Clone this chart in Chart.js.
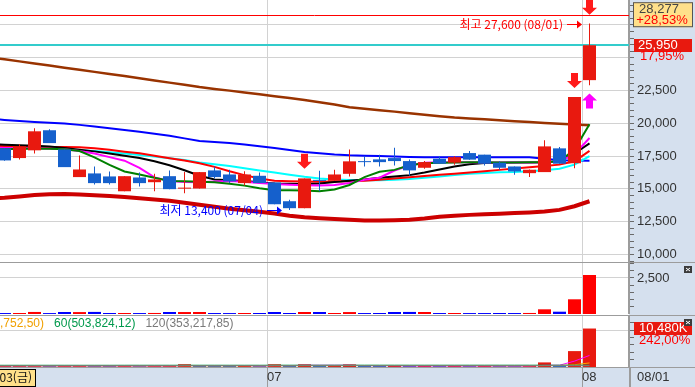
<!DOCTYPE html>
<html lang="ko">
<head>
<meta charset="utf-8">
<title>일봉 차트</title>
<script src="https://cdn.jsdelivr.net/npm/chart.js@4.4.1/dist/chart.umd.min.js"></script>
<style>
  html, body { margin: 0; padding: 0; background: #fff; }
  #wrap { position: relative; width: 695px; height: 387px; overflow: hidden; background: #fff; }
  #sideR { position: absolute; left: 629px; top: 0; width: 66px; height: 387px; background: #d5e0ee; }
  #stripB { position: absolute; left: 0; top: 367px; width: 695px; height: 20px; background: #d5e0ee; }
  canvas { position: absolute; left: 0; }
  .sep { position: absolute; left: 0; width: 695px; height: 1px; background: #9c9c9c; }
  .vsep { position: absolute; left: 629px; top: 367px; width: 2px; height: 20px; background: #9c9c9c; }
</style>
</head>
<body>
<div id="wrap">
  <div id="sideR"></div>
  <div id="stripB"></div>
  <canvas id="cPrice" width="695" height="262" style="top:0"></canvas>
  <canvas id="cTrade" width="695" height="51" style="top:263px"></canvas>
  <canvas id="cVol" width="695" height="71" style="top:316px"></canvas>
  <div class="sep" style="top:262px"></div>
  <div class="sep" style="top:315px"></div>
  <div class="sep" style="top:367px"></div>
  <div class="vsep"></div>
</div>
<script>
// ====== Datos (06/03 ~ 08/01, 일봉) ======
const dates = ['06/03','06/07','06/08','06/09','06/10','06/13','06/14','06/15','06/16','06/17',
  '06/20','06/21','06/22','06/23','06/24','06/27','06/28','06/29','06/30',
  '07/01','07/04','07/05','07/06','07/07','07/08','07/11','07/12','07/13','07/14','07/15',
  '07/18','07/19','07/20','07/21','07/22','07/25','07/26','07/27','07/28','07/29','08/01'];

const openP  = [null,18090,17350,17940,19470,18010,15900,16180,15950,14820,15870,15510,15970,15020,15030,16410,16100,15440,16000,
  15490,14060,13530,15640,15620,16150,17080,17250,17350,17120,16610,17300,17000,17730,17610,17000,16710,16200,16280,18090,16960,23290];
const highP  = [null,18100,18400,19620,19540,18010,17550,16710,16330,15970,16250,16150,16410,16280,16280,16710,16460,16350,16250,
  15490,14170,15800,16380,16460,18010,17480,17610,18140,17250,17120,17480,17500,17880,17610,17100,16710,16480,18700,18190,22000,27600];
const lowP   = [null,17150,17250,17700,18490,16660,15900,15340,15340,14820,15180,14820,14980,14670,15030,15800,15440,15260,15440,
  13830,13400,13530,14830,15620,15950,16710,16710,16790,16000,16530,16920,16850,17230,16790,16450,16080,15900,16280,16920,16580,22900];
const closeP = [null,17170,18240,19390,18490,16660,16480,15440,15440,15970,15440,15720,14980,15040,16280,15900,15570,16100,15440,
  13830,13530,15800,15610,16100,17100,17040,17040,17120,16410,17040,16920,17420,17230,16920,16610,16330,16460,18240,16920,22000,25950];

// 이동평균선
const maGreen   = [18000,18030,18060,18080,18060,18020,17890,17400,16830,16330,16100,15850,15600,15580,15550,15500,15400,15250,15050,14900,
  14900,14880,14830,14960,15300,15900,16300,16450,16800,16950,17000,17020,17030,17030,17020,17020,17030,17040,17100,18000,19920];
const maMagenta = [18150,18120,18100,18090,18060,18020,17880,17700,17420,17150,16600,15880,15600,15530,15510,15560,15600,15550,15450,15380,
  15320,15280,15260,15300,15450,15690,15850,16400,16800,17000,17030,17040,17030,17020,17010,17010,17010,17030,17100,17650,18880];
const maBlack   = [18420,18370,18320,18280,18230,18120,17990,17860,17700,17530,17350,17100,16800,16420,16000,15720,15650,15600,15510,15420,
  15390,15370,15420,15520,15620,15720,15850,15950,16050,16250,16480,16700,16880,16970,17000,17010,17020,17030,17080,17700,18470];
const maRed     = [18300,18260,18240,18220,18200,18190,18170,18100,17980,17840,17720,17520,17340,17160,16960,16680,16350,16050,15800,15630,
  15590,15570,15550,15560,15580,15620,15700,15790,15880,15990,16080,16160,16250,16350,16450,16560,16650,16750,16850,17100,17900];
const maCyan    = [18330,18240,18200,18160,18120,18030,17950,17880,17800,17700,17580,17460,17330,17200,17010,16880,16740,16570,16400,16250,
  16080,15920,15790,15710,15680,15650,15650,15700,15760,15850,15950,16050,16150,16210,16260,16290,16350,16420,16540,16850,17500];
const maBlue    = [20350,20260,20180,20100,20040,19990,19880,19760,19630,19490,19350,19200,19050,18850,18650,18570,18490,18380,18250,18120,
  17960,17810,17720,17620,17560,17530,17500,17470,17440,17410,17410,17410,17410,17410,17410,17410,17410,17300,17180,17160,17140];
const maBrown   = [25030,24880,24720,24560,24400,24240,24080,23920,23760,23600,23430,23260,23100,22930,22760,22620,22490,22350,22210,22070,
  21930,21780,21610,21440,21230,21110,21000,20890,20770,20650,20540,20440,20370,20300,20230,20160,20090,20020,19960,19910,19860];
const maDarkRed = [14250,14320,14420,14540,14600,14620,14580,14520,14460,14380,14290,14200,14090,13950,13790,13640,13480,13380,13250,13130,
  12960,12840,12760,12700,12650,12600,12590,12610,12650,12750,12880,12960,13020,13070,13110,13160,13210,13270,13400,13680,14060];

// 보조지표 (2번째 패널)
const tradeVal = [null,66,71,142,64,137,133,145,70,68,66,72,140,136,138,67,65,71,68,
  141,70,137,139,69,134,66,68,140,143,138,67,71,65,66,68,67,72,326,160,1021,2708];
// 거래량 (천주)
const volumeK = [null,300,300,320,280,290,300,290,270,300,260,280,300,760,320,280,270,300,260,
  750,300,740,290,300,720,280,270,300,290,310,270,300,260,270,260,250,290,1250,300,4330,10480];
const volMa5   = [320,310,300,300,300,290,300,300,290,290,280,280,290,380,380,380,390,380,290,390,
  380,470,480,480,490,380,370,370,290,290,290,290,280,290,280,270,270,460,480,1600,3150];
const volMa20  = [350,350,350,340,340,340,340,340,340,340,330,330,340,350,350,350,350,350,350,370,
  370,390,390,390,410,410,410,410,410,400,400,390,390,380,370,370,360,400,410,620,1110];
const volMa60  = [470,470,470,475,475,475,470,470,470,480,480,480,480,485,485,485,480,480,480,490,
  490,490,490,495,495,495,495,495,490,490,490,490,495,495,495,495,495,500,500,500,504];
const volMa120 = [340,340,340,340,345,345,345,345,345,345,345,345,345,350,350,350,350,350,350,350,
  350,350,350,350,350,350,350,350,350,350,350,350,350,352,352,352,352,352,353,353,353];
const volMaLabels = [',752,50)', '60(503,824,12)', '120(353,217,85)'];

// 축 / 표시값
const priceTickVals  = [9500,10000,10500,11000,11500,12000,12500,13000,13500,14000,14500,15000,15500,16000,16500,17000,17500,
  18000,18500,19000,19500,20000,20500,21000,21500,22000,22500,23000,23500,24000,24500,25000,25500,26000,26500,27000,27500,28000,28500,29000];
const priceGridVals  = [10000,12500,15000,17500,20000,22500,25000,27500];
const priceLabelVals = [10000,12500,15000,17500,20000,22500];
const tradeTickVals  = [500,1000,1500,2000,2500,3000,3500];
const tradeLabelVals = [2500];
const volTickVals    = [2000,4000,6000,8000,10000,12000];
const volGridVals    = [10000];

const limitPrice = 28277, limitPct = 28.53;
const lastClose = 25950, lastPct = 17.95;
const lastVolK = 10480, lastVolPct = 242.00;
const cursorLabel = '03(금)';

// 신호 화살표 / 최고·최저 표시
const sigDownIdx = [21, 39, 40];
const sigDownAt  = [16540, 22700, 28277];
const sigUpIdx   = [40];
const sigUpAt    = [22270];
const noteIdx    = [40, 20];
const notePrice  = [27600, 13400];
const noteText   = ['최고 27,600 (08/01)', '최저 13,400 (07/04)'];

// ====== Escalas ======
const X_MIN = 0.7, X_MAX = 0.7 + 629 / 15;
const P_MIN = 9428, P_MAX = 29398;
const T_MAX = 3541, V_MAX = 13889;
const NUM_FONT = '"Liberation Sans Narrow", "Liberation Sans", sans-serif';
const KR_FONT = '"Noto Sans CJK KR", sans-serif';
const UP = '#e8190f', DOWN = '#1560cc';

const fmt = v => v.toLocaleString('en-US');
const pct = v => v.toFixed(2).replace('.', ',') + '%';
const monthStarts = dates.map((d, i) => (i > 0 && d.slice(0, 2) !== dates[i - 1].slice(0, 2)) ? i : -1).filter(i => i >= 0);
const candleUp = i => closeP[i] >= openP[i];

function xAxis(withLabels) {
  return {
    type: 'linear', min: X_MIN, max: X_MAX, offset: false,
    afterBuildTicks: s => { s.ticks = monthStarts.map(i => ({ value: i - 0.5 })); },
    afterFit: s => { s.height = withLabels ? 20 : 0; s.paddingLeft = 0; s.paddingRight = 0; },
    grid: { offset: false, color: '#d2d2d2', drawTicks: withLabels, tickLength: 20, tickColor: '#9c9c9c' },
    border: { display: false },
    ticks: {
      display: withLabels, align: 'start', padding: -17, autoSkip: false, maxRotation: 0,
      color: '#333', font: { family: NUM_FONT, size: 13 },
      callback: (v, i) => dates[monthStarts[i]].slice(0, 2)
    }
  };
}

function yAxis(min, max, tickVals, gridVals, labelVals) {
  return {
    position: 'right', min, max,
    afterBuildTicks: s => { s.ticks = tickVals.map(v => ({ value: v })); },
    afterFit: s => { s.width = 66; s.paddingTop = 0; s.paddingBottom = 0; },
    grid: {
      color: c => gridVals.includes(c.tick && c.tick.value) ? '#d2d2d2' : 'rgba(0,0,0,0)',
      tickLength: 5, tickColor: '#6a6a6a'
    },
    border: { display: true, color: '#9c9c9c', width: 2 },
    ticks: {
      padding: 3, autoSkip: false, color: '#333', font: { family: NUM_FONT, size: 13 },
      callback: v => labelVals.includes(v) ? fmt(v) : ''
    }
  };
}

const maLine = (vals, color, width, order) => ({
  type: 'line', data: vals.map((v, i) => ({ x: i, y: v })),
  borderColor: color, borderWidth: width, pointRadius: 0, tension: 0, order
});

const baseOpts = {
  responsive: false, devicePixelRatio: 1, animation: false, events: [],
  layout: { padding: 0 },
  plugins: { legend: { display: false }, tooltip: { enabled: false } }
};

// ====== Dibujos extra ======
function downArrow(ctx, x, tip, color) {
  ctx.fillStyle = color;
  ctx.beginPath();
  ctx.moveTo(x - 3.5, tip - 15); ctx.lineTo(x + 3.5, tip - 15); ctx.lineTo(x + 3.5, tip - 7);
  ctx.lineTo(x + 7.5, tip - 7); ctx.lineTo(x, tip); ctx.lineTo(x - 7.5, tip - 7); ctx.lineTo(x - 3.5, tip - 7);
  ctx.closePath(); ctx.fill();
}
function upArrow(ctx, x, tip, color) {
  ctx.fillStyle = color;
  ctx.beginPath();
  ctx.moveTo(x - 3.5, tip + 15); ctx.lineTo(x + 3.5, tip + 15); ctx.lineTo(x + 3.5, tip + 7);
  ctx.lineTo(x + 7.5, tip + 7); ctx.lineTo(x, tip); ctx.lineTo(x - 7.5, tip + 7); ctx.lineTo(x - 3.5, tip + 7);
  ctx.closePath(); ctx.fill();
}
function closeIcon(ctx, x, y) {
  ctx.fillStyle = '#3c3c3c'; ctx.fillRect(x, y, 8, 7);
  ctx.strokeStyle = '#fff'; ctx.lineWidth = 1;
  ctx.beginPath(); ctx.moveTo(x + 2, y + 2); ctx.lineTo(x + 6, y + 5); ctx.moveTo(x + 6, y + 2); ctx.lineTo(x + 2, y + 5); ctx.stroke();
}

const priceLevels = {
  id: 'priceLevels',
  beforeDatasetsDraw(chart) {
    const { ctx, chartArea: a, scales: { y } } = chart;
    ctx.save();
    let yy = Math.round(y.getPixelForValue(limitPrice)) + 0.5;
    ctx.strokeStyle = '#ff0000'; ctx.lineWidth = 1;
    ctx.beginPath(); ctx.moveTo(a.left, yy); ctx.lineTo(a.right, yy); ctx.stroke();
    yy = Math.round(y.getPixelForValue(lastClose));
    ctx.strokeStyle = '#33cccc'; ctx.lineWidth = 2;
    ctx.beginPath(); ctx.moveTo(a.left, yy); ctx.lineTo(a.right, yy); ctx.stroke();
    ctx.restore();
  },
  afterDatasetsDraw(chart) {
    const { ctx, scales: { x, y } } = chart;
    ctx.save();
    sigDownIdx.forEach((i, n) => downArrow(ctx, x.getPixelForValue(i), y.getPixelForValue(sigDownAt[n]), '#ff1a1a'));
    sigUpIdx.forEach((i, n) => upArrow(ctx, x.getPixelForValue(i), y.getPixelForValue(sigUpAt[n]), '#ff00ff'));
    ctx.font = '12px ' + KR_FONT;
    ctx.textBaseline = 'middle';
    noteIdx.forEach((i, n) => {
      const color = n === 0 ? '#ff0000' : '#0000ff';
      const tipX = x.getPixelForValue(i) - 7.5;
      const yy = Math.round(y.getPixelForValue(notePrice[n])) + 0.5;
      ctx.strokeStyle = color; ctx.fillStyle = color; ctx.lineWidth = 1;
      ctx.beginPath(); ctx.moveTo(tipX - 15, yy); ctx.lineTo(tipX - 4, yy); ctx.stroke();
      ctx.beginPath(); ctx.moveTo(tipX - 5, yy - 4); ctx.lineTo(tipX, yy); ctx.lineTo(tipX - 5, yy + 4); ctx.closePath(); ctx.fill();
      ctx.textAlign = 'right';
      ctx.fillText(noteText[n], tipX - 19, yy);
    });
    ctx.restore();
  },
  afterDraw(chart) {
    const { ctx, chartArea: a, scales: { y } } = chart;
    ctx.save();
    ctx.textBaseline = 'middle';
    // 상단 표시 박스
    const top = Math.max(0, y.getPixelForValue(limitPrice) - 12.5);
    ctx.fillStyle = '#ffe08a'; ctx.fillRect(a.right + 4, top, 60, 25);
    ctx.strokeStyle = '#555'; ctx.lineWidth = 1; ctx.strokeRect(a.right + 4.5, top + 0.5, 59, 24);
    ctx.font = '13px ' + NUM_FONT; ctx.textAlign = 'center';
    ctx.fillStyle = '#444'; ctx.fillText(fmt(limitPrice), a.right + 30, top + 7);
    ctx.fillStyle = '#ff0000'; ctx.fillText('+' + pct(limitPct), a.right + 33, top + 18);
    // 현재가 박스
    const yc = y.getPixelForValue(lastClose);
    ctx.fillStyle = '#e8190f'; ctx.fillRect(a.right + 5, Math.round(yc - 6.5), 58, 13);
    ctx.textAlign = 'left';
    ctx.fillStyle = '#fff'; ctx.fillText(fmt(lastClose), a.right + 9, yc);
    ctx.fillStyle = '#ff0000'; ctx.fillText(pct(lastPct), a.right + 11, yc + 11.5);
    ctx.restore();
  }
};

const tradeTags = {
  id: 'tradeTags',
  afterDraw(chart) { closeIcon(chart.ctx, chart.chartArea.right + 55, 3); }
};

const volTags = {
  id: 'volTags',
  afterDraw(chart) {
    const { ctx, chartArea: a, scales: { y } } = chart;
    ctx.save();
    ctx.textBaseline = 'middle';
    // 이동평균 범례
    ctx.font = '12px "Liberation Sans", sans-serif';
    const legendColors = ['#f0a000', '#00994c', '#7a7a7a'];
    let lx = 0;
    volMaLabels.forEach((t, n) => {
      ctx.fillStyle = legendColors[n]; ctx.textAlign = 'left';
      ctx.fillText(t, lx, a.top + 8);
      lx += ctx.measureText(t).width + 10;
    });
    // 거래량 박스
    const yv = y.getPixelForValue(lastVolK);
    ctx.font = '13px ' + NUM_FONT;
    ctx.fillStyle = '#e8190f'; ctx.fillRect(a.right + 5, Math.round(yv - 6.5), 58, 13);
    ctx.fillStyle = '#fff'; ctx.fillText(fmt(lastVolK) + 'K', a.right + 10, yv);
    ctx.fillStyle = '#ff0000'; ctx.fillText(pct(lastVolPct), a.right + 10, yv + 11.5);
    closeIcon(ctx, a.right + 55, 3);
    // 하단 날짜
    const by = a.bottom + 10.5;
    ctx.fillStyle = '#333'; ctx.fillText(dates[dates.length - 1], a.right + 8, by);
    ctx.fillStyle = '#ffe08a'; ctx.fillRect(-1, a.bottom + 2, 37, 18);
    ctx.strokeStyle = '#000'; ctx.lineWidth = 1; ctx.strokeRect(-0.5, a.bottom + 2.5, 36, 17);
    ctx.font = '12px ' + KR_FONT; ctx.textAlign = 'right'; ctx.fillStyle = '#111';
    ctx.fillText(cursorLabel, 32, by);
    ctx.restore();
  }
};

// ====== Chart 1: 가격 ======
const idx = dates.map((d, i) => i);
new Chart(document.getElementById('cPrice'), {
  type: 'bar',
  data: {
    datasets: [
      { data: idx.map(i => ({ x: i, y: openP[i] == null ? null : [openP[i], closeP[i]] })),
        backgroundColor: idx.map(i => candleUp(i) ? UP : DOWN), barThickness: 13, minBarLength: 1,
        grouped: false, inflateAmount: 0, order: 0 },
      { data: idx.map(i => ({ x: i, y: lowP[i] == null ? null : [lowP[i], highP[i]] })),
        backgroundColor: idx.map(i => candleUp(i) ? UP : DOWN), barThickness: 1,
        grouped: false, inflateAmount: 0, order: 1 },
      maLine(maDarkRed, '#cc0000', 4, 9),
      maLine(maBrown, '#993300', 2.5, 9),
      maLine(maBlue, '#0000ff', 2, 8),
      maLine(maCyan, '#00ffff', 2, 7),
      maLine(maRed, '#ff0000', 2, 6),
      maLine(maBlack, '#000000', 2, 5),
      maLine(maMagenta, '#ff00ff', 2, 4),
      maLine(maGreen, '#008000', 2, 3)
    ]
  },
  options: { ...baseOpts, scales: { x: xAxis(false), y: yAxis(P_MIN, P_MAX, priceTickVals, priceGridVals, priceLabelVals) } },
  plugins: [priceLevels]
});

// ====== Chart 2 ======
new Chart(document.getElementById('cTrade'), {
  type: 'bar',
  data: {
    datasets: [
      { data: idx.map(i => ({ x: i, y: tradeVal[i] })),
        backgroundColor: idx.map(i => candleUp(i) ? '#ff0000' : '#0000ff'), barThickness: 13, inflateAmount: 0 }
    ]
  },
  options: { ...baseOpts, scales: { x: xAxis(false), y: yAxis(0, T_MAX, tradeTickVals, [2500], tradeLabelVals) } },
  plugins: [tradeTags]
});

// ====== Chart 3: 거래량 ======
new Chart(document.getElementById('cVol'), {
  type: 'bar',
  data: {
    datasets: [
      { data: idx.map(i => ({ x: i, y: volumeK[i] })),
        backgroundColor: idx.map(i => (volumeK[i] >= (volumeK[i - 1] || 0)) ? '#e8190f' : '#2f6cc4'),
        barThickness: 13, inflateAmount: 0, order: 5 },
      maLine(volMa120, '#808080', 1, 1),
      maLine(volMa60, '#00994c', 1, 1),
      maLine(volMa20, '#ffa500', 1, 1),
      maLine(volMa5, '#ff00ff', 1, 1)
    ]
  },
  options: { ...baseOpts, scales: { x: xAxis(true), y: yAxis(0, V_MAX, volTickVals, volGridVals, []) } },
  plugins: [volTags]
});
</script>
</body>
</html>
